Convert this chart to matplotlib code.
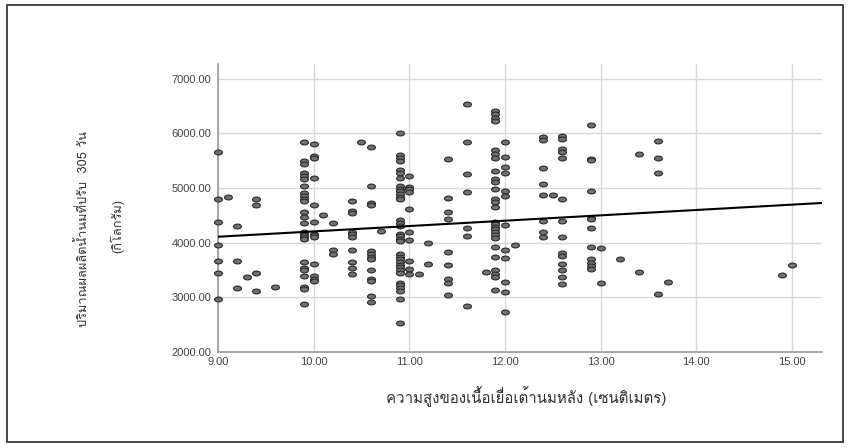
import numpy as np
import matplotlib
matplotlib.use("Agg")
import matplotlib.pyplot as plt
from matplotlib import font_manager as fm
from matplotlib.ft2font import FT2Font
from matplotlib.path import Path
from matplotlib.patches import Rectangle

# tissue height levels (cm) and milk yield (kg, 305-day adjusted) read per column
height_levels = [9.0, 9.1, 9.2, 9.3, 9.4, 9.6, 9.9, 10.0, 10.1, 10.2, 10.4, 10.5,
                 10.6, 10.7, 10.9, 11.0, 11.1, 11.2, 11.4, 11.6, 11.8, 11.9, 12.0,
                 12.1, 12.4, 12.5, 12.6, 12.9, 13.0, 13.2, 13.4, 13.6, 13.7, 14.9, 15.0]
milk_by_level = [
    [5660, 4790, 4375, 3950, 3660, 3435, 2970],
    [4830],
    [4310, 3655, 3170],
    [3375],
    [4790, 4685, 3445, 3110],
    [3185],
    [5835, 5490, 5430, 5280, 5225, 5170, 5035, 4900, 4850, 4800, 4755, 4565, 4475,
     4365, 4200, 4165, 4130, 4100, 4070, 3650, 3525, 3495, 3385, 3190, 3155, 2880],
    [5810, 5585, 5540, 5180, 4680, 4380, 4165, 4130, 4100, 3610, 3385, 3335, 3300],
    [4510],
    [4365, 3860, 3790],
    [4760, 4580, 4535, 4200, 4155, 4105, 3870, 3650, 3525, 3415],
    [5835],
    [5750, 5030, 4730, 4685, 3840, 3785, 3740, 3690, 3495, 3325, 3295, 3025, 2905],
    [4215],
    [6010, 5600, 5540, 5490, 5325, 5280, 5175, 5035, 4985, 4935, 4890, 4840, 4790,
     4410, 4365, 4300, 4165, 4120, 4070, 4020, 3785, 3740, 3690, 3640, 3595, 3545,
     3495, 3445, 3265, 3215, 3165, 3115, 2965, 2520],
    [5215, 5020, 4975, 4930, 4620, 4185, 4055, 3665, 3510, 3415],
    [3415],
    [3995, 3605],
    [5525, 4820, 4565, 4440, 3830, 3590, 3325, 3250, 3040],
    [6535, 5845, 5255, 4920, 4270, 4125, 2830],
    [3465],
    [6415, 6355, 6290, 6230, 5695, 5620, 5545, 5315, 5155, 5105, 4985, 4790, 4740,
     4645, 4380, 4340, 4290, 4240, 4190, 4145, 4090, 3925, 3740, 3495, 3425, 3375, 3130],
    [5845, 5570, 5390, 5280, 4935, 4850, 4330, 3860, 3720, 3275, 3100, 2735],
    [3950],
    [5925, 5875, 5370, 5065, 4870, 4400, 4200, 4105],
    [4880],
    [5950, 5900, 5705, 5655, 5555, 4790, 4395, 4100, 3800, 3755, 3610, 3490, 3365, 3240],
    [6145, 5535, 5510, 4945, 4455, 4425, 4260, 3925, 3705, 3620, 3570, 3520],
    [3895, 3265],
    [3690],
    [5625, 3455],
    [5865, 5545, 5280, 3050],
    [3275],
    [3400],
    [3590],
]
fit_intercept = 3224.0   # fitted line: y = a + b * x
fit_slope = 98.0

x_ticks = [9, 10, 11, 12, 13, 14, 15]
y_ticks = [2000, 3000, 4000, 5000, 6000, 7000]
x_label = "ความสูงของเนื้อเยื่อเต้านมหลัง (เซนติเมตร)"
y_label_1 = "ปริมาณผลผลิตน้ำนมที่ปรับ  305 วัน"
y_label_2 = "(กิโลกรัม)"


def thai_family():
    for f in fm.fontManager.ttflist:
        try:
            if 0x0E01 in FT2Font(f.fname).get_charmap():
                return f.name
        except Exception:
            pass
    return "DejaVu Sans"


thai = [thai_family(), "DejaVu Sans"]

xs = np.concatenate([[lv] * len(v) for lv, v in zip(height_levels, milk_by_level)])
ys = np.concatenate(milk_by_level)

# flattened ellipse marker like the SPSS output
circ = Path.unit_circle()
ellipse = Path(circ.vertices * np.array([1.0, 0.62]), circ.codes)

fig = plt.figure(figsize=(8.5, 4.48), dpi=100)
ax = fig.add_axes([0.2565, 0.215, 0.71, 0.642])

ax.set_xlim(9, 15.31)
ax.set_ylim(2000, 7270)
ax.set_xticks(x_ticks)
ax.set_yticks(y_ticks)
ax.set_xticklabels([f"{v:.2f}" for v in x_ticks])
ax.set_yticklabels([f"{v:.2f}" for v in y_ticks])
ax.grid(True, color="#d8d8d8", linewidth=1.0)
ax.set_axisbelow(True)
for s in ["top", "right"]:
    ax.spines[s].set_visible(False)
for s in ["left", "bottom"]:
    ax.spines[s].set_color("#9a9a9a")
    ax.spines[s].set_linewidth(1.2)
ax.tick_params(length=0, labelsize=8, labelcolor="#444444")
ax.tick_params(axis="y", pad=5)
ax.tick_params(axis="x", pad=4)
for lab in ax.get_xticklabels() + ax.get_yticklabels():
    lab.set_family("Liberation Sans")

ax.scatter(xs, ys, marker=ellipse, s=32, facecolor="#707070",
           edgecolor="#2a2a2a", linewidth=0.8, zorder=3, clip_on=False)

line_x = np.array([9, 15.31])
ax.plot(line_x, fit_intercept + fit_slope * line_x, color="black", lw=1.5, zorder=4)

ax.set_xlabel(x_label, family=thai, fontsize=10.8, color="#333333")
ax.xaxis.set_label_coords(0.51, -0.12)

fig.text(83 / 850, 1 - 229 / 448, y_label_1, rotation=90, ha="center", va="center",
         family=thai, fontsize=9.2, color="#333333")
fig.text(117 / 850, 1 - 226 / 448, y_label_2, rotation=90, ha="center", va="center",
         family=thai, fontsize=9.2, color="#333333")

fig.patches.append(Rectangle((7 / 850, 6 / 448), 836 / 850, 437 / 448,
                             transform=fig.transFigure, fill=False,
                             edgecolor="#3a3a3a", linewidth=1.3))

fig.savefig("out.png", dpi=100)
